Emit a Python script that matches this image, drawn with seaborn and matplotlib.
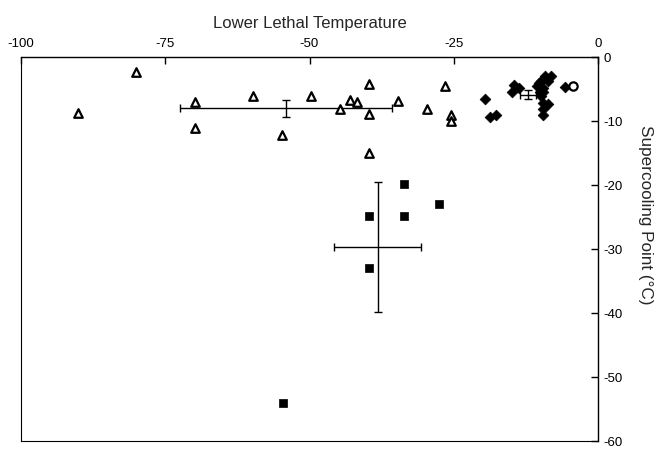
import matplotlib
matplotlib.use("Agg")
import matplotlib.pyplot as plt
import seaborn as sns
import pandas as pd

# ---- data ----
tri_llt = [-80.1, -90.1, -69.8, -69.8, -59.8, -54.8, -49.8, -44.7, -42.9, -41.8,
           -39.7, -39.7, -39.7, -34.7, -29.7, -26.6, -25.5, -25.5]
tri_scp = [-2.3, -8.8, -7.1, -11.1, -6.1, -12.2, -6.1, -8.2, -6.7, -7.1,
           -4.2, -8.9, -15.0, -6.9, -8.1, -4.6, -9.1, -10.0]

sq_llt = [-33.7, -27.6, -39.7, -33.7, -39.7, -54.6]
sq_scp = [-19.9, -22.9, -24.9, -24.9, -32.9, -54.0]

dia_llt = [-19.5, -18.7, -17.6, -14.5, -13.7, -14.9, -10.6, -10.3, -9.8, -9.2,
           -8.2, -8.6, -9.8, -9.5, -9.5, -9.5, -8.7, -9.5, -9.5, -5.7, -10.0]
dia_scp = [-6.5, -9.3, -9.1, -4.3, -4.8, -5.4, -4.6, -4.1, -3.7, -3.0,
           -3.0, -3.7, -6.1, -5.4, -4.8, -7.2, -7.3, -8.2, -9.0, -4.7, -5.5]

circ_llt = [-4.3]
circ_scp = [-4.6]

# group means with errors
mean_llt = [-54.1, -38.2, -12.2]
mean_scp = [-8.0, -29.7, -5.9]
err_llt = [18.4, 7.6, 1.4]
err_scp = [1.35, 10.2, 0.7]

x_ticks = [-100, -75, -50, -25, 0]
y_ticks = [0, -10, -20, -30, -40, -50, -60]

sns.set_style("white")
plt.rcParams['font.family'] = ['Liberation Sans', 'DejaVu Sans']

fig = plt.figure(figsize=(6.62, 4.49), dpi=100)
ax = fig.add_axes([21/662, 1-441/449, (598-21)/662, (441-57)/449])

tri = pd.DataFrame({"llt": tri_llt, "scp": tri_scp})
sq = pd.DataFrame({"llt": sq_llt, "scp": sq_scp})
dia = pd.DataFrame({"llt": dia_llt, "scp": dia_scp})
circ = pd.DataFrame({"llt": circ_llt, "scp": circ_scp})

sns.scatterplot(data=tri, x="llt", y="scp", ax=ax, marker="^", s=38,
                facecolor="white", edgecolor="black", linewidth=1.6, zorder=3)
sns.scatterplot(data=sq, x="llt", y="scp", ax=ax, marker="s", s=40,
                color="black", edgecolor="black", linewidth=0.5, zorder=3)
sns.scatterplot(data=dia, x="llt", y="scp", ax=ax, marker="D", s=30,
                color="black", edgecolor="black", linewidth=0.5, zorder=3)
sns.scatterplot(data=circ, x="llt", y="scp", ax=ax, marker="o", s=36,
                facecolor="white", edgecolor="black", linewidth=1.6, zorder=4)

ax.errorbar(mean_llt, mean_scp, xerr=err_llt, yerr=err_scp, fmt="none",
            ecolor="black", elinewidth=1.0, capsize=3, capthick=1.0, zorder=2)

ax.set_xlim(-100, 0)
ax.set_ylim(-60, 0)
ax.set_xticks(x_ticks)
ax.set_yticks(y_ticks)
ax.set_xticklabels([str(v) for v in x_ticks])
ax.set_yticklabels([str(v) for v in y_ticks])

ax.xaxis.tick_top()
ax.xaxis.set_label_position("top")
ax.yaxis.tick_right()
ax.yaxis.set_label_position("right")
ax.tick_params(axis="x", direction="in", length=5, width=1, labelsize=9.5, pad=5, colors="black")
ax.tick_params(axis="y", direction="in", length=5, width=1, labelsize=9.5, pad=4, colors="black")

ax.set_xlabel("Lower Lethal Temperature", fontsize=12, labelpad=7)
ax.set_ylabel("Supercooling Point (°C)", fontsize=12.3, rotation=270)
ax.yaxis.label.set_va("center")
ax.yaxis.label.set_ha("center")
ax.yaxis.set_label_coords((645 - 21) / 577, (441 - 215) / 384)

for side in ["top", "right", "left", "bottom"]:
    ax.spines[side].set_visible(True)
    ax.spines[side].set_color("black")
ax.spines["top"].set_linewidth(1.0)
ax.spines["right"].set_linewidth(1.0)
ax.spines["left"].set_linewidth(0.8)
ax.spines["bottom"].set_linewidth(0.8)

fig.savefig("out.png", dpi=100)
